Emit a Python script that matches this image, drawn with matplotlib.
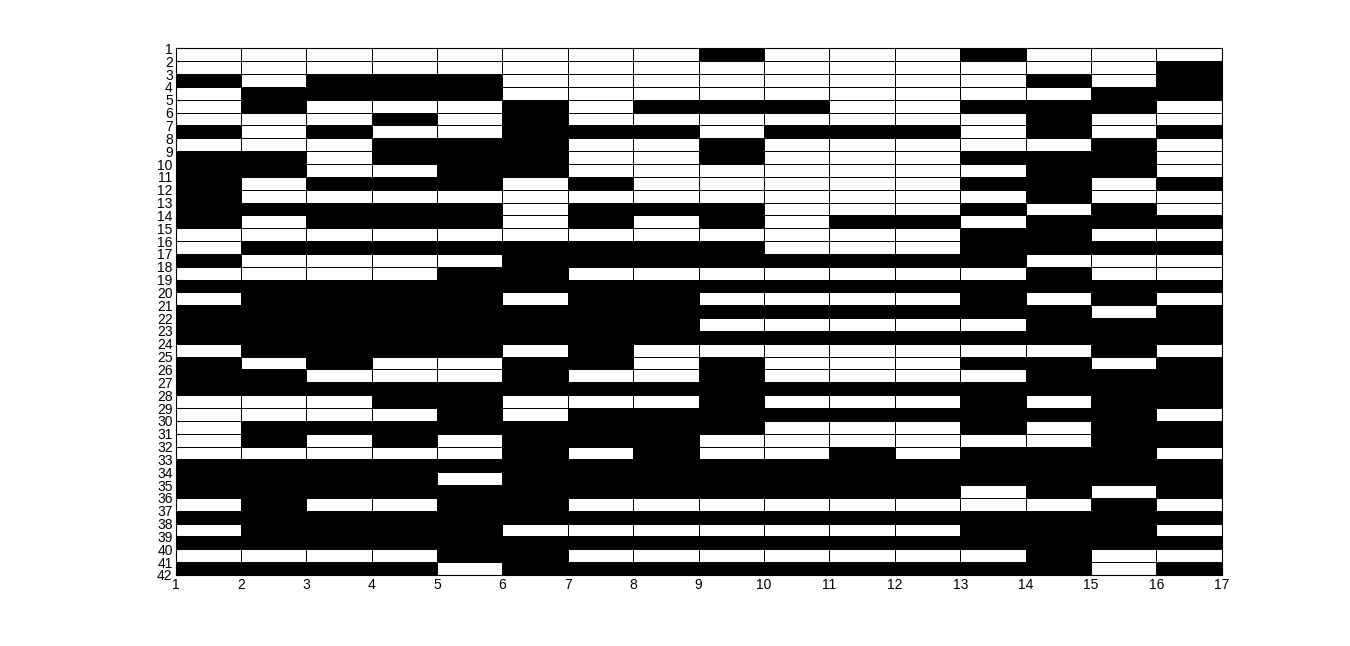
import numpy as np
import matplotlib
matplotlib.use("Agg")
import matplotlib.pyplot as plt
from matplotlib.colors import ListedColormap

# 41 x 16 binary cells (1 = black, 0 = white), read row by row from top
cells = [
    [0, 0, 0, 0, 0, 0, 0, 0, 1, 0, 0, 0, 1, 0, 0, 0],
    [0, 0, 0, 0, 0, 0, 0, 0, 0, 0, 0, 0, 0, 0, 0, 1],
    [1, 0, 1, 1, 1, 0, 0, 0, 0, 0, 0, 0, 0, 1, 0, 1],
    [0, 1, 1, 1, 1, 0, 0, 0, 0, 0, 0, 0, 0, 0, 1, 1],
    [0, 1, 0, 0, 0, 1, 0, 1, 1, 1, 0, 0, 1, 1, 1, 0],
    [0, 0, 0, 1, 0, 1, 0, 0, 0, 0, 0, 0, 0, 1, 0, 0],
    [1, 0, 1, 0, 0, 1, 1, 1, 0, 1, 1, 1, 0, 1, 0, 1],
    [0, 0, 0, 1, 1, 1, 0, 0, 1, 0, 0, 0, 0, 0, 1, 0],
    [1, 1, 0, 1, 1, 1, 0, 0, 1, 0, 0, 0, 1, 1, 1, 0],
    [1, 1, 0, 0, 1, 1, 0, 0, 0, 0, 0, 0, 0, 1, 1, 0],
    [1, 0, 1, 1, 1, 0, 1, 0, 0, 0, 0, 0, 1, 1, 0, 1],
    [1, 0, 0, 0, 0, 0, 0, 0, 0, 0, 0, 0, 0, 1, 0, 0],
    [1, 1, 1, 1, 1, 0, 1, 1, 1, 0, 0, 0, 1, 0, 1, 0],
    [1, 0, 1, 1, 1, 0, 1, 0, 1, 0, 1, 1, 0, 1, 1, 1],
    [0, 0, 0, 0, 0, 0, 0, 0, 0, 0, 0, 0, 1, 1, 0, 0],
    [0, 1, 1, 1, 1, 1, 1, 1, 1, 0, 0, 0, 1, 1, 1, 1],
    [1, 0, 0, 0, 0, 1, 1, 1, 1, 1, 1, 1, 1, 0, 0, 0],
    [0, 0, 0, 0, 1, 1, 0, 0, 0, 0, 0, 0, 0, 1, 0, 0],
    [1, 1, 1, 1, 1, 1, 1, 1, 1, 1, 1, 1, 1, 1, 1, 1],
    [0, 1, 1, 1, 1, 0, 1, 1, 0, 0, 0, 0, 1, 0, 1, 0],
    [1, 1, 1, 1, 1, 1, 1, 1, 1, 1, 1, 1, 1, 1, 0, 1],
    [1, 1, 1, 1, 1, 1, 1, 1, 0, 0, 0, 0, 0, 1, 1, 1],
    [1, 1, 1, 1, 1, 1, 1, 1, 1, 1, 1, 1, 1, 1, 1, 1],
    [0, 1, 1, 1, 1, 0, 1, 0, 0, 0, 0, 0, 0, 0, 1, 0],
    [1, 0, 1, 0, 0, 1, 1, 0, 1, 0, 0, 0, 1, 1, 0, 1],
    [1, 1, 0, 0, 0, 1, 0, 0, 1, 0, 0, 0, 0, 1, 1, 1],
    [1, 1, 1, 1, 1, 1, 1, 1, 1, 1, 1, 1, 1, 1, 1, 1],
    [0, 0, 0, 1, 1, 0, 0, 0, 1, 0, 0, 0, 1, 0, 1, 1],
    [0, 0, 0, 0, 1, 0, 1, 1, 1, 1, 1, 1, 1, 1, 1, 0],
    [0, 1, 1, 1, 1, 1, 1, 1, 1, 0, 0, 0, 1, 0, 1, 1],
    [0, 1, 0, 1, 0, 1, 1, 1, 0, 0, 0, 0, 0, 0, 1, 1],
    [0, 0, 0, 0, 0, 1, 0, 1, 0, 0, 1, 0, 1, 1, 1, 0],
    [1, 1, 1, 1, 1, 1, 1, 1, 1, 1, 1, 1, 1, 1, 1, 1],
    [1, 1, 1, 1, 0, 1, 1, 1, 1, 1, 1, 1, 1, 1, 1, 1],
    [1, 1, 1, 1, 1, 1, 1, 1, 1, 1, 1, 1, 0, 1, 0, 1],
    [0, 1, 0, 0, 1, 1, 0, 0, 0, 0, 0, 0, 0, 0, 1, 0],
    [1, 1, 1, 1, 1, 1, 1, 1, 1, 1, 1, 1, 1, 1, 1, 1],
    [0, 1, 1, 1, 1, 0, 0, 0, 0, 0, 0, 0, 1, 1, 1, 0],
    [1, 1, 1, 1, 1, 1, 1, 1, 1, 1, 1, 1, 1, 1, 1, 1],
    [0, 0, 0, 0, 1, 1, 0, 0, 0, 0, 0, 0, 0, 1, 0, 0],
    [1, 1, 1, 1, 0, 1, 1, 1, 1, 1, 1, 1, 1, 1, 0, 1],
]

x_ticks = list(range(1, 18))
y_ticks = list(range(1, 43))

plt.rcParams['font.family'] = ['Liberation Sans', 'DejaVu Sans']

fig = plt.figure(figsize=(13.5, 6.46), dpi=100)
fig.patch.set_facecolor('white')
ax = fig.add_axes([0.13, 0.11, 0.775, 0.815])

C = np.array(cells)
xe = np.array(x_ticks)
ye = np.array(y_ticks)
ax.pcolormesh(xe, ye, C, cmap=ListedColormap(['white', 'black']),
              vmin=0, vmax=1, edgecolors='black', linewidth=0.72,
              antialiased=False, snap=True)

ax.set_xlim(x_ticks[0], x_ticks[-1])
ax.set_ylim(y_ticks[-1], y_ticks[0])
ax.set_xticks(x_ticks)
ax.set_yticks(y_ticks)
ax.tick_params(direction='in', length=4, labelsize=10, pad=2)
for s in ax.spines.values():
    s.set_linewidth(0.8)

fig.savefig('out.png', dpi=100, facecolor='white')
